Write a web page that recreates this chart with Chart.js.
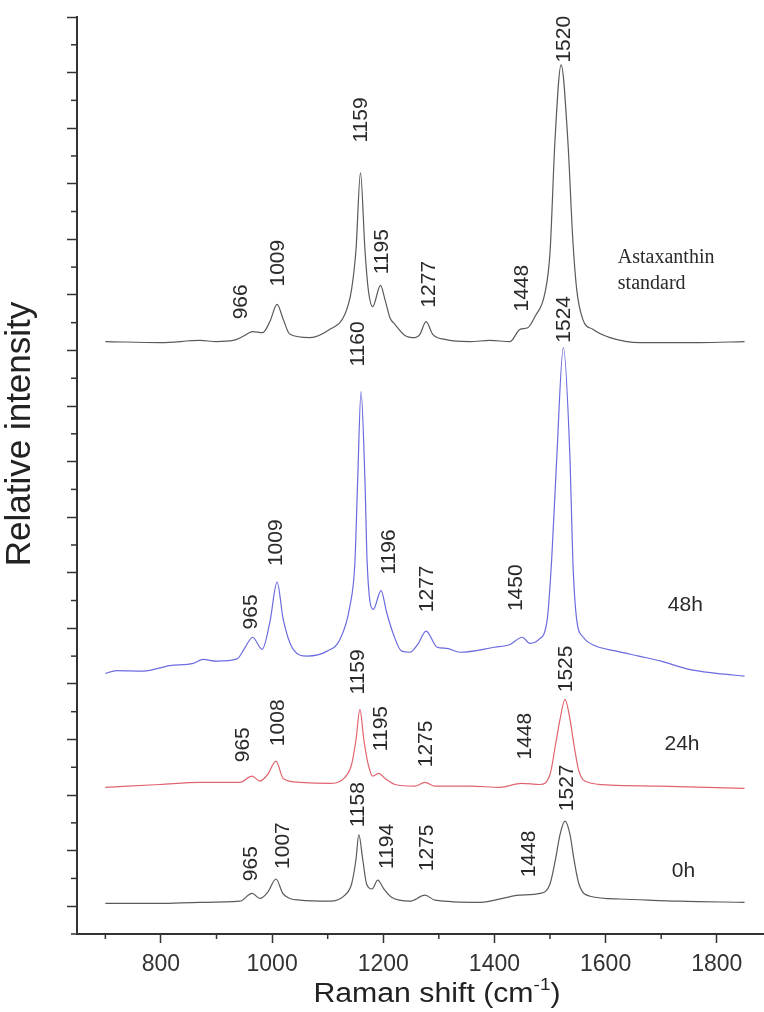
<!DOCTYPE html>
<html><head><meta charset="utf-8">
<script src="https://cdn.jsdelivr.net/npm/chart.js@4.4.0/dist/chart.umd.min.js"></script>
<style>html,body{margin:0;padding:0;background:#fff;}#wrap{width:764px;height:1012px;position:relative;}</style>
</head><body><div id="wrap"><canvas id="c"></canvas></div>
<script>
// Raman shift (cm-1) and relative intensity (offset-stacked) for each spectrum
const stdShift = [700,800,870,900,930,947,965,983,996,1009,1020,1032,1068,1104,1131,1143,1151,1159,1167,1173,1181,1195,1203,1212,1221,1239,1257,1266,1277,1289,1311,1356,1392,1428,1446,1460,1473,1491,1500,1509,1520,1532,1541,1548,1559,1577,1608,1662,1770,1850];
const stdInt   = [10.16,10.14,10.18,10.16,10.18,10.25,10.34,10.32,10.52,10.83,10.56,10.29,10.23,10.38,10.65,11.10,11.82,13.20,11.82,11.10,10.79,11.17,10.92,10.59,10.47,10.27,10.23,10.29,10.52,10.29,10.20,10.16,10.18,10.16,10.38,10.41,10.61,11.04,11.76,13.79,15.14,13.79,12.00,11.10,10.56,10.38,10.23,10.14,10.14,10.16];

const h48Shift = [700,720,768,816,858,876,900,937,951,965,982,996,1009,1020,1038,1063,1099,1122,1140,1149,1154,1160,1167,1171,1182,1196,1206,1217,1233,1248,1262,1277,1297,1314,1338,1400,1428,1450,1464,1480,1495,1503,1512,1524,1536,1541,1548,1560,1580,1620,1660,1700,1750,1800,1850];
const h48Int   = [4.19,4.24,4.23,4.33,4.37,4.44,4.41,4.45,4.65,4.84,4.62,5.11,5.83,5.16,4.62,4.50,4.59,4.80,5.40,6.19,7.68,9.26,7.68,6.19,5.34,5.68,5.29,4.93,4.59,4.57,4.71,4.95,4.66,4.64,4.57,4.66,4.71,4.84,4.73,4.80,5.16,6.24,8.04,10.05,8.04,6.24,5.16,4.84,4.69,4.59,4.50,4.41,4.26,4.19,4.14];

const h24Shift = [700,798,870,942,964,978,992,1007,1020,1050,1104,1131,1143,1151,1158,1165,1173,1181,1192,1203,1221,1257,1275,1293,1356,1410,1449,1482,1500,1510,1518,1527,1536,1543,1552,1568,1608,1697,1850];
const h24Int   = [2.14,2.19,2.23,2.23,2.34,2.25,2.37,2.61,2.30,2.23,2.21,2.32,2.55,3.00,3.54,3.00,2.55,2.34,2.39,2.30,2.19,2.16,2.23,2.16,2.16,2.14,2.21,2.19,2.37,2.91,3.36,3.72,3.36,2.91,2.43,2.23,2.18,2.16,2.12];

const h0Shift = [700,798,870,942,964,978,992,1007,1020,1050,1104,1131,1143,1151,1156,1163,1170,1180,1190,1201,1215,1248,1275,1293,1374,1446,1482,1500,1510,1518,1527,1536,1543,1552,1572,1626,1733,1850];
const h0Int   = [0.05,0.05,0.07,0.09,0.23,0.14,0.25,0.49,0.22,0.11,0.09,0.20,0.40,0.85,1.29,0.85,0.40,0.31,0.47,0.31,0.16,0.09,0.20,0.11,0.07,0.20,0.23,0.40,0.85,1.29,1.53,1.29,0.85,0.40,0.18,0.13,0.09,0.07];

const xTickLabels = [800,1000,1200,1400,1600,1800];
const yMajorTicks = [0,1,2,3,4,5,6,7,8,9,10,11,12,13,14,15,16];

// peak annotations: text, label centre (cm-1), label start (intensity)
const peakLabels = [
  ['966',942,10.56],['1009',1009,11.15],['1159',1158,13.74],['1195',1197,11.37],['1277',1280,10.77],['1448',1449,10.70],['1520',1523,15.18],
  ['965',960,4.98],['1009',1005,6.12],['1160',1154,9.71],['1196',1208,5.97],['1277',1277,5.29],['1450',1437,5.31],['1524',1523,10.14],
  ['965',947,2.59],['1008',1010,2.88],['1159',1154,3.81],['1195',1194,2.79],['1275',1275,2.50],['1448',1453,2.64],['1525',1528,3.85],
  ['965',960,0.45],['1007',1018,0.67],['1158',1154,1.42],['1194',1206,0.67],['1275',1278,0.63],['1448',1460,0.52],['1527',1530,1.71]
];
const seriesNames = ['Astaxanthin standard','48h','24h','0h'];
const seriesLabelPos = [[1622,11.10],[1712,5.31],[1706,2.81],[1719,0.52]];

const colors = ['#5a5a5a','#6b6be0','#e06470','#5a5a5a'];
const shifts = [stdShift,h48Shift,h24Shift,h0Shift];
const ints = [stdInt,h48Int,h24Int,h0Int];

const datasets = shifts.map((sx,i)=>({
  label: seriesNames[i],
  data: sx.map((x,j)=>({x:x,y:ints[i][j]})),
  borderColor: colors[i], borderWidth: 1.2, pointRadius: 0, showLine: true,
  cubicInterpolationMode: 'monotone', fill: false
}));

const SANS = '"Liberation Sans", Arial, sans-serif';
const extras = {
  id:'extras',
  afterDraw(chart){
    const ctx = chart.ctx, xs = chart.scales.x, ys = chart.scales.y, ca = chart.chartArea;
    ctx.save();
    // minor ticks
    ctx.strokeStyle = '#333'; ctx.lineWidth = 1.5;
    for (let v=-0.5; v<16; v+=1){ const p = ys.getPixelForValue(v); ctx.beginPath(); ctx.moveTo(ca.left-6,p); ctx.lineTo(ca.left,p); ctx.stroke(); }
    for (let v=700; v<=1900; v+=200){ if (v<xs.min||v>xs.max) continue; const p = xs.getPixelForValue(v); ctx.beginPath(); ctx.moveTo(p,ca.bottom); ctx.lineTo(p,ca.bottom+5); ctx.stroke(); }
    // peak labels
    ctx.fillStyle = '#2a2a2a'; ctx.font = '21px ' + SANS;
    ctx.textAlign = 'left'; ctx.textBaseline = 'middle';
    peakLabels.forEach(([t,x,y])=>{
      ctx.save(); ctx.translate(xs.getPixelForValue(x), ys.getPixelForValue(y)); ctx.rotate(-Math.PI/2); ctx.fillText(t,0,1); ctx.restore();
    });
    // series labels
    ctx.textBaseline = 'alphabetic';
    ctx.font = '20px "Liberation Serif", "Times New Roman", serif';
    const sp = seriesLabelPos[0];
    const words = seriesNames[0].split(' ');
    ctx.fillText(words[0], xs.getPixelForValue(sp[0]), ys.getPixelForValue(sp[1]) - 26);
    ctx.fillText(words[1], xs.getPixelForValue(sp[0]), ys.getPixelForValue(sp[1]));
    ctx.font = '21px ' + SANS;
    for (let i=1;i<4;i++){ const p = seriesLabelPos[i]; ctx.fillText(seriesNames[i], xs.getPixelForValue(p[0]), ys.getPixelForValue(p[1])); }
    // axis titles
    ctx.fillStyle = '#222';
    ctx.save(); ctx.translate(20, 434); ctx.rotate(-Math.PI/2);
    ctx.font = '35px ' + SANS; ctx.textAlign='center'; ctx.textBaseline='middle';
    ctx.fillText('Relative intensity',0,0); ctx.restore();
    ctx.save();
    ctx.textAlign='left'; ctx.textBaseline='alphabetic';
    const a = 'Raman shift (cm', sup = '-1', b = ')';
    ctx.font = '27px ' + SANS; const wa = ctx.measureText(a).width, wb = ctx.measureText(b).width;
    ctx.font = '17px ' + SANS; const ws = ctx.measureText(sup).width;
    const sx = 1.12, tot = (wa+ws+wb)*sx;
    ctx.translate(437 - tot/2, 1002); ctx.scale(sx,1);
    ctx.font = '27px ' + SANS; ctx.fillText(a,0,0);
    ctx.font = '17px ' + SANS; ctx.fillText(sup,wa,-12);
    ctx.font = '27px ' + SANS; ctx.fillText(b,wa+ws,0);
    ctx.restore();
    ctx.restore();
  }
};

new Chart(document.getElementById('c'), {
  type: 'scatter',
  data: { datasets },
  options: {
    responsive: true, maintainAspectRatio: false, animation: false,
    layout: { padding: { top: 17, left: 0, right: 0, bottom: 0 } },
    plugins: { legend: { display: false }, tooltip: { enabled: false } },
    scales: {
      x: {
        type: 'linear', min: 649, max: 1885,
        afterBuildTicks: s => { s.ticks = xTickLabels.map(v => ({ value: v })); },
        afterFit: s => { s.height = 78; },
        ticks: { font: { family: SANS, size: 23 }, color: '#333', padding: 8, maxRotation: 0, autoSkip: false, callback: v => String(v) },
        grid: { drawOnChartArea: false, tickLength: 9, tickColor: '#333', tickWidth: 1.5 },
        border: { color: '#333', width: 2 }
      },
      y: {
        type: 'linear', min: -0.5, max: 16,
        afterBuildTicks: s => { s.ticks = yMajorTicks.map(v => ({ value: v })); },
        afterFit: s => { s.width = 77; },
        ticks: { display: false },
        grid: { drawOnChartArea: false, tickLength: 10, tickColor: '#333', tickWidth: 1.5 },
        border: { color: '#333', width: 2 }
      }
    }
  },
  plugins: [extras]
});
</script></body></html>
